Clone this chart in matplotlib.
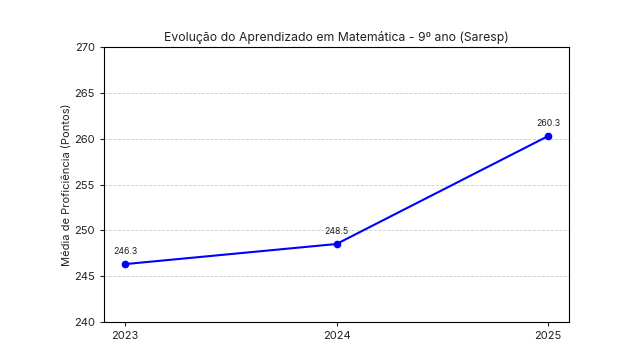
import matplotlib
matplotlib.use("Agg")
import matplotlib.pyplot as plt

anos = ["2023", "2024", "2025"]
medias = [246.3, 248.5, 260.3]
yticks = [240, 245, 250, 255, 260, 265, 270]

plt.rcParams['font.family'] = ['Inter', 'DejaVu Sans']

fig = plt.figure(figsize=(6.22, 3.58), dpi=100)
ax = fig.add_axes([0.167, 0.1014, 0.748, 0.766])

x = list(range(len(anos)))
ax.plot(x, medias, color='blue', marker='o', linewidth=1.5, markersize=4.5)
for xi, v in zip(x, medias):
    ax.annotate(f"{v}", (xi, v), textcoords="offset points", xytext=(0, 7),
                ha='center', fontsize=6.3, color='#222222')

ax.set_xticks(x)
ax.set_xticklabels(anos)
ax.set_ylim(240, 270)
ax.set_yticks(yticks)
ax.tick_params(labelsize=8, colors='#222222', length=3)
ax.grid(axis='y', linestyle='--', color='#cccccc', linewidth=0.6)
ax.set_ylabel("Média de Proficiência (Pontos)", fontsize=8, color='#222222', labelpad=1.5)
ax.set_title("Evolução do Aprendizado em Matemática - 9º ano (Saresp)", fontsize=8.8, color='#222222', pad=5)

fig.savefig("out.png", dpi=100)
